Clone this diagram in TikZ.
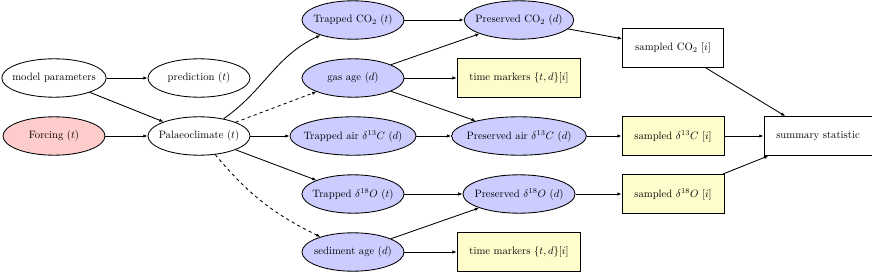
\documentclass[tikz,border=0pt]{standalone}
\usepackage{amsmath,amssymb}
\usetikzlibrary{arrows.meta,positioning,shapes.geometric}

\begin{document}
\begin{tikzpicture}[
  x=0.937pt, y=-0.937pt,
  font=\normalsize,
  >={Latex[length=4pt,width=3.2pt]},
  % ── model quantity (ellipse) ─────────────────────────────────────────────
  var/.style={
    draw, thick, fill=white, shape=ellipse,
    minimum width=95.6pt, minimum height=36pt,
    inner xsep=-4.5pt, align=center
  },
  proxy/.style={var, fill=blue!20},
  % ── observation / output (rectangle) ─────────────────────────────────────
  obs/.style={
    draw, thick, fill=white,
    minimum width=94.6pt, minimum height=36.5pt,
    inner xsep=11.5pt, align=center
  },
  marker/.style={obs, fill=yellow!20, minimum width=116pt},
  % ── arrows ───────────────────────────────────────────────────────────────
  arr/.style={->, thick},
  arrD/.style={->, thick, dashed},
]
\useasboundingbox (0,0) rectangle (872,272);

%% ── Inputs and climate ──
\node[var] (params) at (54,78)  {model parameters};
\node[var] (pred)   at (199,78) {prediction $(t)$};
\node[var, fill=red!20] (forcing) at (54,136) {Forcing $(t)$};
\node[var] (palaeo) at (199,136) {Palaeoclimate $(t)$};

%% ── Trapped signals and ages ──
\node[proxy] (trapCO) at (353,20)  {Trapped CO$_2$ $(t)$};
\node[proxy] (gasage) at (353,78)  {gas age $(d)$};
\node[proxy] (trapC)  at (353,136) {Trapped air $\delta^{13}C$ $(d)$};
\node[proxy] (trapO)  at (353,194) {Trapped $\delta^{18}O$ $(t)$};
\node[proxy] (sedage) at (353,252) {sediment age $(d)$};

%% ── Preserved signals and time markers ──
\node[proxy]  (presCO) at (519,20)  {Preserved CO$_2$ $(d)$};
\node[marker] (tmgas)  at (519,78)  {time markers $\{t,d\}[i]$};
\node[proxy]  (presC)  at (519,136) {Preserved air $\delta^{13}C$ $(d)$};
\node[proxy]  (presO)  at (519,194) {Preserved $\delta^{18}O$ $(d)$};
\node[marker] (tmsed)  at (519,252) {time markers $\{t,d\}[i]$};

%% ── Samples and summary ──
\node[obs] (sampCO) at (673,48)  {sampled CO$_2$ $[i]$};
\node[obs, fill=yellow!20] (sampC) at (673,136) {sampled $\delta^{13}C$ $[i]$};
\node[obs, fill=yellow!20] (sampO) at (673,194) {sampled $\delta^{18}O$ $[i]$};
\node[obs, minimum width=101pt] (summary) at (818,136) {summary statistic};

%% ── Climate arrows ────────────────────────────────────────────────────────
\draw[arr] (params)  -- (pred);
\draw[arr] (params)  -- (palaeo);
\draw[arr] (forcing) -- (palaeo);
\draw[arr]  (palaeo) to[out=35, in=205] (trapCO);
\draw[arrD] (palaeo) -- (gasage);
\draw[arr]  (palaeo) -- (trapC);
\draw[arr]  (palaeo) -- (trapO);
\draw[arrD] (palaeo) to[bend right=12] (sedage);

%% ── Preservation arrows ───────────────────────────────────────────────────
\draw[arr] (trapCO) -- (presCO);
\draw[arr] (gasage) -- (presCO);
\draw[arr] (gasage) -- (tmgas);
\draw[arr] (gasage) -- (presC);
\draw[arr] (trapC)  -- (presC);
\draw[arr] (trapO)  -- (presO);
\draw[arr] (sedage) -- (presO);
\draw[arr] (sedage) -- (tmsed);

%% ── Sampling arrows ───────────────────────────────────────────────────────
\draw[arr] (presCO) -- (sampCO);
\draw[arr] (presC)  -- (sampC);
\draw[arr] (presO)  -- (sampO);
\draw[arr] (sampCO) -- (summary);
\draw[arr] (sampC)  -- (summary);
\draw[arr] (sampO)  -- (summary);

\end{tikzpicture}
\end{document}
